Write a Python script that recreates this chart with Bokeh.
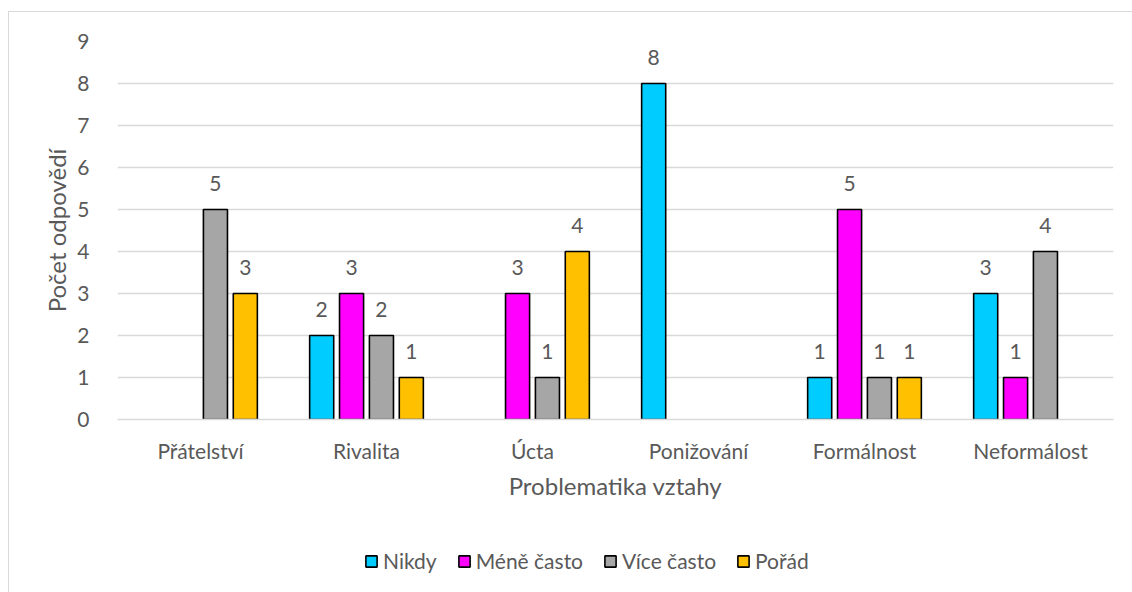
from bokeh.plotting import figure
from bokeh.layouts import column
from bokeh.models import (ColumnDataSource, FactorRange, Range1d, FixedTicker,
                          Legend, LegendItem)
from bokeh.transform import dodge
from bokeh.core.properties import value
from bokeh.embed import file_html
from bokeh.resources import INLINE

# Survey answers per relationship topic
categories = ["Přátelství", "Rivalita", "Úcta", "Ponižování", "Formálnost", "Neformálost"]
nikdy = [0, 2, 0, 8, 1, 3]
mene_casto = [0, 3, 3, 0, 5, 1]
vice_casto = [5, 2, 1, 0, 1, 4]
porad = [3, 1, 4, 0, 1, 0]

series_names = ["Nikdy", "Méně často", "Více často", "Pořád"]
series_values = [nikdy, mene_casto, vice_casto, porad]
series_colors = ["#00CCFF", "#FF00FF", "#A6A6A6", "#FFC000"]
y_ticks = list(range(0, 10))

x_title = "Problematika vztahy"
y_title = "Počet odpovědí"

FONT = "Lato"
TEXT_COLOR = "#595959"
GRID_COLOR = "#D9D9D9"

p = figure(
    x_range=FactorRange(*categories, range_padding=0),
    y_range=Range1d(0, 9),
    width=1123, height=520,
    output_backend="svg", toolbar_location=None,
    min_border_left=108, min_border_right=19,
    min_border_top=29, min_border_bottom=113,
)
p.outline_line_color = None
p.background_fill_color = "white"
p.border_fill_color = "white"

step = 0.18
bar_w = 0.145
for i, (name, vals, col) in enumerate(zip(series_names, series_values, series_colors)):
    off = (i - 1.5) * step
    cats = [c for c, v in zip(categories, vals) if v > 0]
    tops = [v for v in vals if v > 0]
    src = ColumnDataSource(dict(cat=cats, val=tops, lab=[str(v) for v in tops]))
    p.vbar(x=dodge("cat", off, range=p.x_range), top="val", width=bar_w,
           source=src, fill_color=col, line_color="black", line_width=1.6)
    p.text(x=dodge("cat", off, range=p.x_range), y="val", text="lab", source=src,
           text_align="center", text_baseline="alphabetic", y_offset=-26,
           text_font=value(FONT), text_font_size="21px", text_color=TEXT_COLOR)

# axes
p.yaxis.ticker = FixedTicker(ticks=y_ticks)
p.yaxis.axis_line_color = None
p.yaxis.major_tick_line_color = None
p.yaxis.minor_tick_line_color = None
p.yaxis.major_label_standoff = 22
p.yaxis.axis_label = y_title
p.yaxis.axis_label_standoff = 3

p.xaxis.axis_line_color = GRID_COLOR
p.xaxis.axis_line_width = 1.5
p.xaxis.major_tick_line_color = None
p.xaxis.major_label_standoff = 12
p.xaxis.axis_label = x_title
p.xaxis.axis_label_standoff = 5

for ax in (p.xaxis, p.yaxis):
    ax.major_label_text_font = FONT
    ax.major_label_text_font_size = "21px"
    ax.major_label_text_color = TEXT_COLOR
    ax.axis_label_text_font = FONT
    ax.axis_label_text_font_size = "24px"
    ax.axis_label_text_font_style = "normal"
    ax.axis_label_text_color = TEXT_COLOR

p.xgrid.grid_line_color = None
p.ygrid.grid_line_color = GRID_COLOR
p.ygrid.grid_line_width = 1.5

# legend strip under the chart; swatch renderers hold only NaN bars
nan = float("nan")
leg = figure(width=1123, height=60, output_backend="svg", toolbar_location=None,
             x_range=Range1d(0, 1), y_range=Range1d(0, 1),
             min_border=0, min_border_left=0, min_border_right=0,
             min_border_top=0, min_border_bottom=0)
leg.axis.visible = False
leg.grid.visible = False
leg.outline_line_color = None
leg.border_fill_color = "white"
leg.background_fill_color = "white"
legend_items = []
for name, col in zip(series_names, series_colors):
    r = leg.vbar(x=[nan], top=[nan], bottom=[nan], width=0.1, fill_color=col,
                 line_color="black", line_width=1.6)
    legend_items.append(LegendItem(label=name, renderers=[r]))
legend = Legend(items=legend_items, orientation="horizontal",
                location=(247, 19), glyph_width=14, glyph_height=14,
                label_standoff=5, spacing=20, padding=0, margin=0,
                border_line_color=None, background_fill_alpha=0,
                label_text_font=FONT, label_text_font_size="21px",
                label_text_color=TEXT_COLOR)
leg.add_layout(legend, "center")

# thin frame around the whole chart (left and top edges fall inside the page)
layout = column(p, leg, spacing=0, margin=(11, 0, 0, 8),
                styles={"border-left": "1px solid #D9D9D9",
                        "border-top": "1px solid #D9D9D9"})

open("out.html", "w").write(file_html(layout, INLINE))
